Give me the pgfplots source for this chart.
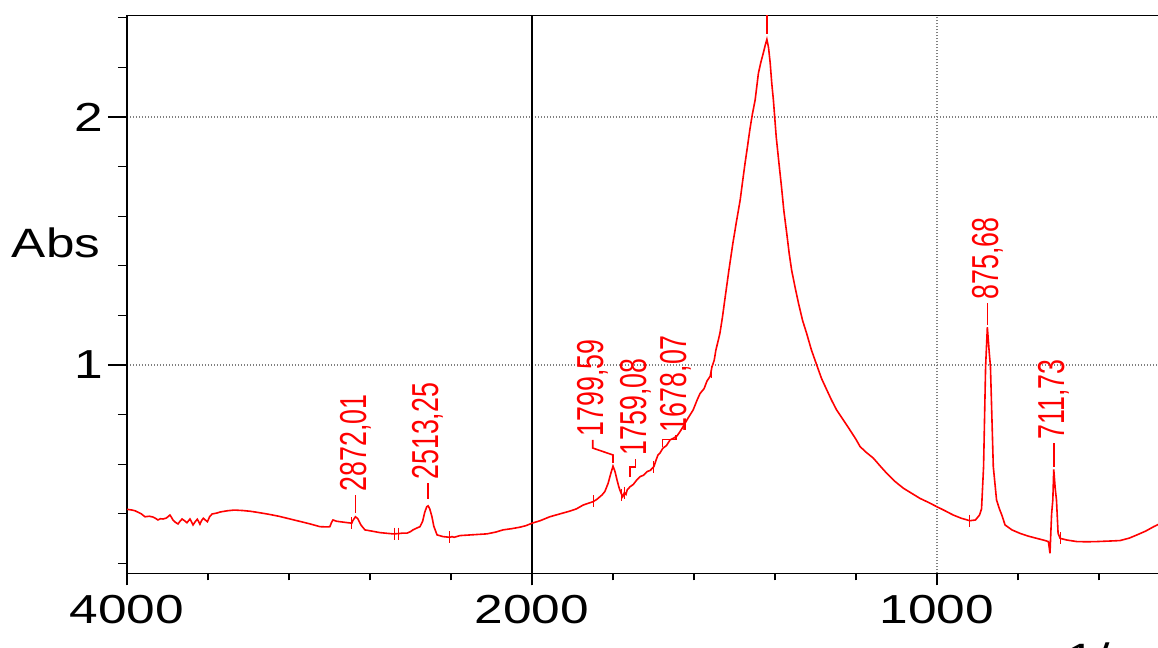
\documentclass[border=0pt]{standalone}
\usepackage{pgfplots}
\pgfplotsset{compat=1.18}
\usepackage{fontspec}
\setmainfont{Liberation Sans}
\usepackage{graphicx}
\newcommand{\tl}[1]{\scalebox{1.27}[1]{#1}}
\newcommand{\pl}[1]{{\fontsize{13.4}{15}\selectfont\scalebox{1}[1.4]{#1}}}
\tikzset{pk/.style={rotate=90, anchor=west, inner sep=1.5pt, text=red},
         ld/.style={draw=red, line width=0.8pt}}
\begin{document}
\begin{tikzpicture}
\path[use as bounding box] (0,0) rectangle (579pt,324pt);
\clip (0,0) rectangle (579pt,324pt);
\begin{axis}[
  at={(63.5pt,37.35pt)}, anchor=south west,
  scale only axis, width=526.5pt, height=279pt,
  x coord trafo/.code={\pgfmathparse{ifthenelse(#1<2000,3000-#1,(4000-#1)/2)}},
  x coord inv trafo/.code={\pgfmathparse{ifthenelse(#1>1000,3000-#1,4000-2*#1)}},
  xmin=4000, xmax=400, ymin=0.16, ymax=2.41,
  axis line style={black, line width=0.75pt},
  tick pos=left, tick align=outside,
  major tick length=6pt, minor tick length=3.5pt,
  ytick style={/pgfplots/major tick length=9.5pt,/pgfplots/minor tick length=4.5pt},
  tick style={black, line width=0.6pt},
  xtick={4000,2000,1000},
  xticklabels={\tl{4000},\tl{2000},\tl{1000}},
  minor xtick={3600,3200,2800,2400,1800,1600,1400,1200,800,600,400},
  ytick={1,2},
  yticklabels={\tl{1},\tl{2}},
  minor ytick={0.2,0.4,0.6,0.8,1.2,1.4,1.6,1.8,2.2,2.4},
  tick label style={font=\fontsize{20.25}{24}\selectfont},
  xticklabel style={inner sep=0pt, yshift=-5pt},
  yticklabel style={inner sep=0pt, xshift=-5.5pt},
  xmajorgrids, ymajorgrids,
  major grid style={dash pattern=on 0.6pt off 0.9pt, gray, line width=0.6pt},
  extra x ticks={2000}, extra x tick labels={},
  extra x tick style={grid=major, major grid style={solid, black, line width=1pt}},
  every axis y label/.style={at={(axis description cs:-0.0674,0.592)}, anchor=center, font=\fontsize{20.5}{24}\selectfont},
  ylabel={\scalebox{1.25}[1]{Abs}},
  every axis x label/.style={at={(axis description cs:1,0)}, anchor=north east, inner sep=0pt, yshift=-34.4pt, font=\fontsize{20.5}{24}\selectfont},
  xlabel={\tl{1/cm}},
]
\addplot[red, line width=0.8pt] coordinates {
(4000,0.418) (3975,0.415) (3960,0.412) (3930,0.400) (3911,0.388) (3890,0.390)
(3872,0.387) (3860,0.382) (3847,0.375) (3835,0.380) (3822,0.379) (3805,0.383)
(3788,0.395) (3780,0.385) (3773,0.375) (3760,0.365) (3748,0.359) (3738,0.370)
(3728,0.379) (3716,0.372) (3704,0.364) (3696,0.372) (3689,0.379) (3682,0.368)
(3674,0.355) (3665,0.366) (3653,0.378) (3647,0.370) (3640,0.358) (3632,0.372)
(3623,0.382) (3612,0.374) (3603,0.368) (3592,0.388) (3580,0.399) (3556,0.403)
(3541,0.407) (3506,0.412) (3470,0.415) (3427,0.413) (3390,0.410) (3358,0.406)
(3300,0.398) (3250,0.390) (3210,0.382) (3150,0.370) (3100,0.360) (3047,0.348)
(3010,0.347) (2998,0.348) (2990,0.365) (2983,0.375) (2965,0.370) (2948,0.368)
(2920,0.365) (2899,0.363) (2890,0.362) (2885,0.372) (2872,0.388) (2860,0.380)
(2845,0.355) (2825,0.335) (2790,0.330) (2751,0.324) (2700,0.320) (2686,0.319)
(2660,0.320) (2640,0.322) (2617,0.322) (2600,0.328) (2588,0.335) (2570,0.342)
(2553,0.348) (2540,0.370) (2530,0.405) (2520,0.428) (2513,0.432) (2505,0.420)
(2494,0.388) (2485,0.350) (2469,0.315) (2440,0.308) (2405,0.305) (2395,0.308)
(2385,0.305) (2356,0.312) (2300,0.315) (2222,0.319) (2180,0.326) (2143,0.335)
(2100,0.340) (2059,0.346) (2030,0.352) (2000,0.362)
(1980,0.372) (1956,0.388) (1930,0.400) (1906,0.411) (1890,0.420) (1874,0.435)
(1860,0.443) (1849,0.449) (1840,0.458) (1827,0.476) (1820,0.490) (1812,0.523)
(1805,0.565) (1800,0.592) (1795,0.570) (1790,0.536) (1785,0.505) (1780,0.483)
(1776,0.469) (1772,0.485) (1768,0.478) (1765,0.496) (1758,0.509) (1750,0.518)
(1742,0.535) (1733,0.550) (1725,0.555) (1716,0.570) (1708,0.575) (1699,0.590)
(1694,0.615) (1689,0.637) (1684,0.645) (1677,0.664) (1668,0.675) (1659,0.698)
(1650,0.705) (1642,0.714) (1635,0.730) (1627,0.751) (1615,0.785) (1602,0.819)
(1592,0.860) (1585,0.885) (1575,0.905) (1568,0.935) (1560,0.955) (1556,0.990)
(1550,1.020) (1546,1.060) (1540,1.100) (1536,1.128) (1530,1.190) (1524,1.262)
(1514,1.380) (1504,1.491) (1495,1.580) (1486,1.665) (1480,1.740) (1474,1.813)
(1468,1.880) (1462,1.950) (1456,2.010) (1449,2.069) (1441,2.176) (1435,2.220)
(1429,2.257) (1424,2.290) (1420,2.313) (1416,2.280) (1412,2.220) (1408,2.136)
(1404,2.069) (1397,1.920) (1390,1.810) (1384,1.719) (1378,1.620) (1371,1.531)
(1365,1.450) (1359,1.383) (1350,1.310) (1342,1.249) (1332,1.180) (1322,1.128)
(1310,1.060) (1297,1.000) (1285,0.945) (1272,0.899) (1260,0.857) (1248,0.819)
(1230,0.775) (1215,0.738) (1200,0.700) (1190,0.671) (1175,0.648) (1157,0.624)
(1140,0.592) (1124,0.563) (1105,0.532) (1083,0.503) (1060,0.480) (1042,0.462)
(1020,0.445) (1001,0.429) (980,0.412) (960,0.395) (940,0.382) (919,0.372)
(905,0.375) (895,0.395) (890,0.420) (885,0.590) (880,0.993) (875.68,1.152)
(871,1.050) (868,0.993) (861,0.590) (853,0.456) (846,0.420) (840,0.395)
(832,0.355) (815,0.335) (795,0.321) (775,0.310) (754,0.301) (735,0.293)
(725,0.288) (721,0.241) (717,0.400) (714,0.456) (711.73,0.579) (708,0.500)
(705,0.456) (701,0.321) (696,0.301) (679,0.294) (655,0.288) (630,0.287)
(605,0.288) (575,0.290) (548,0.292) (525,0.302) (506,0.315) (485,0.330)
(465,0.348) (450,0.360) (437,0.370) (420,0.380) (400,0.390)
};
\addplot[red, only marks, mark=|, mark size=3pt, mark options={line width=0.5pt}] coordinates {
(2890,0.362) (2677,0.320) (2660,0.320) (2405,0.305) (1847,0.450) (1778,0.476)
(1772,0.485) (1701,0.588) (1558,0.970) (919,0.372) (696,0.301)
};
\draw[ld] (axis cs:2872.01,0.405) -- (axis cs:2872.01,0.476);
\node[pk] at (axis cs:2872.01,0.476) {\pl{2872,01}};
\draw[ld] (axis cs:2513.25,0.460) -- (axis cs:2513.25,0.524);
\node[pk] at (axis cs:2513.25,0.524) {\pl{2513,25}};
\draw[ld] (axis cs:1800,0.605) -- (axis cs:1800,0.637) -- (axis cs:1850,0.665) -- (axis cs:1850,0.698);
\node[pk] at (axis cs:1850,0.698) {\pl{1799,59}};
\draw[ld] (axis cs:1758,0.550) -- (axis cs:1758,0.589) -- (axis cs:1744,0.589) -- (axis cs:1744,0.621);
\node[pk] at (axis cs:1744,0.621) {\pl{1759,08}};
\draw[ld] (axis cs:1678,0.670) -- (axis cs:1678,0.700) -- (axis cs:1644,0.700) -- (axis cs:1644,0.716);
\node[pk] at (axis cs:1644,0.716) {\pl{1678,07}};
\draw[ld] (axis cs:875.68,1.161) -- (axis cs:875.68,1.250);
\node[pk] at (axis cs:875.68,1.250) {\pl{875,68}};
\draw[ld] (axis cs:711.73,0.589) -- (axis cs:711.73,0.685);
\node[pk] at (axis cs:711.73,0.685) {\pl{711,73}};
\draw[ld] (axis cs:1420,2.335) -- (axis cs:1420,2.45);
\end{axis}
\end{tikzpicture}
\end{document}
